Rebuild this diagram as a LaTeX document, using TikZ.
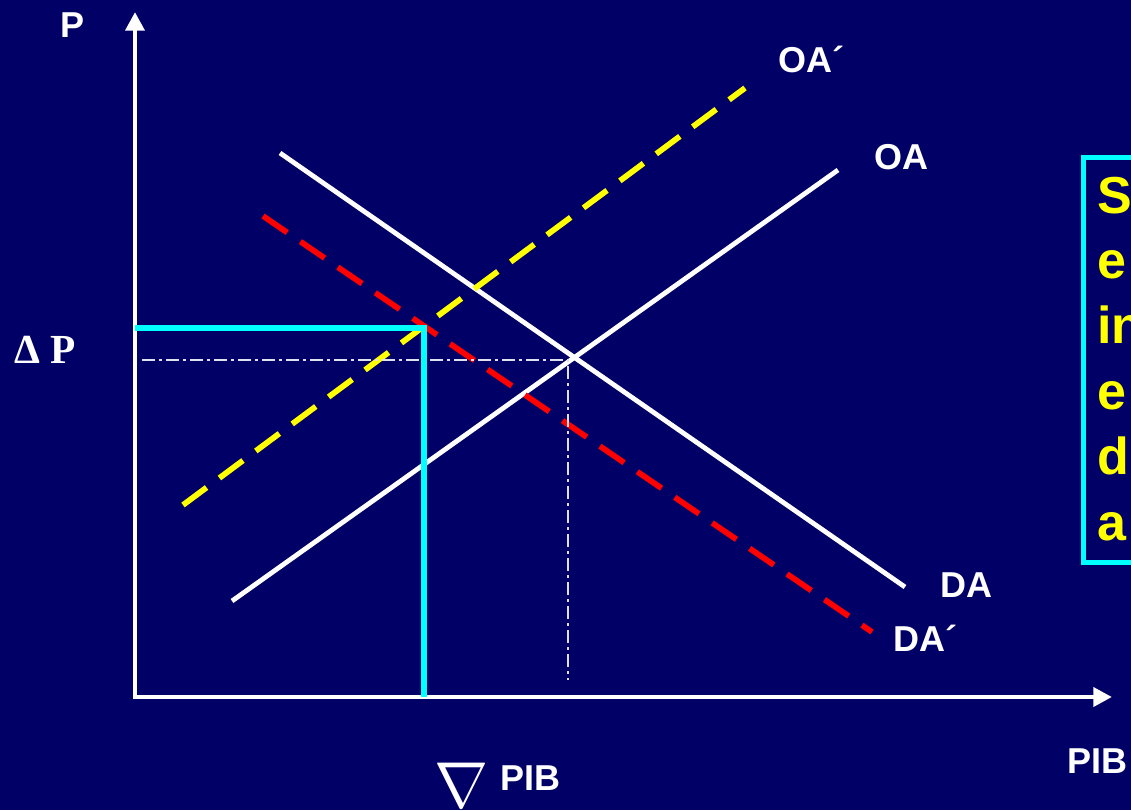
\documentclass[tikz,border=0pt]{standalone}
\usepackage{fontspec}
\setmainfont{Liberation Sans}
\newfontfamily\timesbf{Liberation Serif}
\usetikzlibrary{arrows.meta,positioning}
\definecolor{bgnavy}{HTML}{000066}
\definecolor{aqua}{HTML}{00FFFF}
\definecolor{supyellow}{HTML}{FFFF00}
\definecolor{demred}{HTML}{FF0000}

\begin{document}
\begin{tikzpicture}[x=0.75pt,y=-0.75pt,
  axis/.style={draw=white,line width=3.5pt,line join=miter,{Triangle[length=14pt,width=14pt]}-{Triangle[length=14pt,width=14pt]}},
  curve/.style={draw=white,line width=3.6pt},
  shifted/.style={line width=4.3pt,dash pattern=on 22pt off 12pt},
  guide/.style={draw=white!88!bgnavy,line width=1.4pt,dash pattern=on 10pt off 3pt on 2pt off 3pt},
  marker/.style={draw=aqua,line width=5pt,line join=miter},
  lbl/.style={text=white,font=\fontsize{27}{30}\selectfont\bfseries,inner sep=0pt,anchor=base west},
  boxtxt/.style={text=supyellow,font=\fontsize{39}{49}\selectfont\bfseries,inner sep=0pt,anchor=base west}
]
  \clip (0,0) rectangle (1131,810);
  \fill[bgnavy] (0,0) rectangle (1131,810);

  % axes
  \coordinate (origin) at (135,697);
  \coordinate (ytip) at (135,12);
  \coordinate (xtip) at (1112,697);
  \draw[axis] (ytip) -- (origin) -- (xtip);

  % curves
  \coordinate (oa1) at (232,601);  \coordinate (oa2) at (838,170);
  \coordinate (da1) at (280,153);  \coordinate (da2) at (905,587);
  \coordinate (oap1) at (183,505); \coordinate (oap2) at (745,88);
  \coordinate (dap1) at (263,216); \coordinate (dap2) at (872,632);
  \draw[curve] (oa1) -- (oa2);
  \draw[curve] (da1) -- (da2);
  \draw[shifted,draw=supyellow] (oap1) -- (oap2);
  \draw[shifted,draw=demred] (dap1) -- (dap2);

  % equilibrium guides
  \coordinate (pguide) at (142,360);
  \coordinate (eqmain) at (568,360);
  \coordinate (qguide) at (568,680);
  \draw[guide] (pguide) -- (eqmain) -- (qguide);

  \coordinate (pnew) at (135,328);
  \coordinate (eqnew) at (424,328);
  \coordinate (qnew) at (424,697);
  \draw[marker] (pnew) -- (eqnew) -- (qnew);

  % labels
  \node[lbl] (plabel) at (60,37) {P};
  \node[lbl] (oaplabel) at (778,72) {OA´};
  \node[lbl] (oalabel) at (874,169) {OA};
  \node[lbl] (dalabel) at (940,597) {DA};
  \node[lbl] (daplabel) at (893,651) {DA´};
  \node[lbl] (pibaxis) at (1067,773) {PIB};
  \node[lbl,font=\fontsize{31}{34}\selectfont\timesbf\bfseries] (deltap) at (14,363) {Δ P};
  \node[lbl,font=\fontsize{20.74}{22}\selectfont] (nabla) at (434,807) {\scalebox{2.35}{$\nabla$}};
  \node[lbl] (pibdrop) at (500,790) {PIB};

  % text box
  \node[draw=aqua,line width=3.8pt,inner sep=0pt,anchor=north west,minimum width=90pt,minimum height=303.75pt] (infobox) at (1081,155) {};
  \foreach \txt [count=\i] in {S,e,in,e,d,a}
    \node[boxtxt] (boxline\i) at (1097,{213+65.4*(\i-1)}) {\txt};
\end{tikzpicture}
\end{document}
